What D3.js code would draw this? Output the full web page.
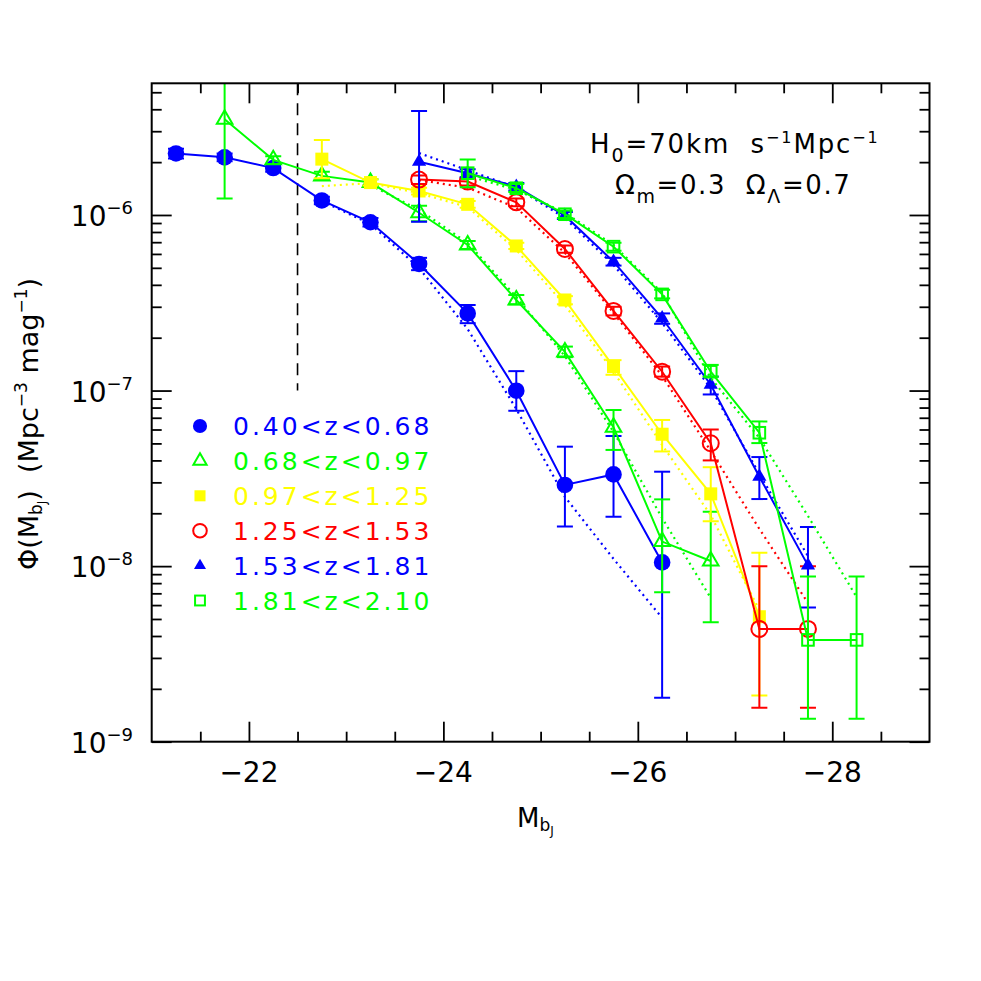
<!DOCTYPE html>
<html><head><meta charset="utf-8">
<script src="https://cdn.jsdelivr.net/npm/d3@7"></script>
<style>
body{margin:0;background:#fff}
text{font-family:"DejaVu Sans",sans-serif}
</style>
</head><body>
<svg id="chart" width="981" height="981"></svg>
<script>
// ---------------- DATA ----------------
const seriesLabels = ["0.40<z<0.68","0.68<z<0.97","0.97<z<1.25","1.25<z<1.53","1.53<z<1.81","1.81<z<2.10"];
const seriesColors = ["#0000ff","#00ff00","#ffff00","#ff0000","#0000ff","#00ff00"];
const seriesSymbols = ["circleFilled","triangleOpen","squareFilled","circleOpen","triangleFilled","squareOpen"];

// 0.40<z<0.68
const s1Mag = [-21.25,-21.75,-22.25,-22.75,-23.25,-23.75,-24.25,-24.75,-25.25,-25.75,-26.25];
const s1Phi = [2.24e-6,2.13e-6,1.85e-6,1.21e-6,9.09e-7,5.26e-7,2.75e-7,9.98e-8,2.90e-8,3.33e-8,1.05e-8];
const s1Lo  = [2.10e-6,2.02e-6,1.76e-6,1.15e-6,8.6e-7,4.85e-7,2.42e-7,7.67e-8,1.68e-8,1.91e-8,1.78e-9];
const s1Hi  = [2.38e-6,2.24e-6,1.95e-6,1.27e-6,9.6e-7,5.7e-7,3.07e-7,1.29e-7,4.79e-8,5.51e-8,3.45e-8];
const s1ModelMag = [-22.75,-23.25,-23.75,-24.25,-24.75,-25.25,-25.75,-26.25];
const s1Model    = [1.20e-6,8.88e-7,4.99e-7,2.24e-7,7.85e-8,2.48e-8,1.10e-8,5.07e-9];

// 0.68<z<0.97
const s2Mag = [-21.75,-22.25,-22.75,-23.25,-23.75,-24.25,-24.75,-25.25,-25.75,-26.25,-26.75];
const s2Phi = [3.51e-6,2.06e-6,1.67e-6,1.53e-6,1.03e-6,6.75e-7,3.28e-7,1.66e-7,6.18e-8,1.38e-8,1.07e-8];
const s2Lo  = [1.24e-6,1.95e-6,1.60e-6,1.47e-6,9.2e-7,6.4e-7,3.1e-7,1.55e-7,4.59e-8,7.10e-9,4.79e-9];
const s2Hi  = [8e-6,2.16e-6,1.76e-6,1.60e-6,1.13e-6,7.1e-7,3.5e-7,1.78e-7,7.75e-8,2.40e-8,2.04e-8];
const s2ModelMag = [-23.25,-23.75,-24.25,-24.75,-25.25,-25.75,-26.25,-26.75];
const s2Model    = [1.48e-6,1.07e-6,6.93e-7,3.41e-7,1.57e-7,5.81e-8,1.88e-8,6.59e-9];

// 0.97<z<1.25
const s3Mag = [-22.75,-23.25,-23.75,-24.25,-24.75,-25.25,-25.75,-26.25,-26.75,-27.25];
const s3Phi = [2.08e-6,1.53e-6,1.37e-6,1.15e-6,6.66e-7,3.28e-7,1.37e-7,5.64e-8,2.58e-8,5.15e-9];
const s3Lo  = [1.62e-6,1.47e-6,1.31e-6,1.10e-6,6.4e-7,3.1e-7,1.23e-7,4.5e-8,1.8e-8,1.83e-9];
const s3Hi  = [2.67e-6,1.60e-6,1.43e-6,1.20e-6,6.95e-7,3.45e-7,1.49e-7,6.8e-8,3.66e-8,1.19e-8];
const s3ModelMag = [-22.75,-23.25,-23.75,-24.25,-24.75,-25.25,-25.75,-26.25,-26.75,-27.25];
const s3Model    = [1.46e-6,1.52e-6,1.33e-6,1.11e-6,6.32e-7,3.07e-7,1.28e-7,4.90e-8,1.95e-8,5.62e-9];

// 1.25<z<1.53
const s4Mag = [-23.75,-24.25,-24.75,-25.25,-25.75,-26.25,-26.75,-27.25,-27.75];
const s4Phi = [1.59e-6,1.55e-6,1.18e-6,6.40e-7,2.84e-7,1.28e-7,5.01e-8,4.39e-9,4.39e-9];
const s4Lo  = [1.50e-6,1.47e-6,1.12e-6,6.1e-7,2.68e-7,1.2e-7,4.0e-8,1.56e-9,1.56e-9];
const s4Hi  = [1.68e-6,1.63e-6,1.24e-6,6.7e-7,3.0e-7,1.37e-7,6.0e-8,1.0e-8,1.0e-8];
const s4ModelMag = [-23.75,-24.25,-24.75,-25.25,-25.75,-26.25,-26.75,-27.25,-27.75];
const s4Model    = [1.58e-6,1.43e-6,1.10e-6,6.08e-7,2.77e-7,1.21e-7,4.53e-8,1.63e-8,6.17e-9];

// 1.53<z<1.81
const s5Mag = [-23.75,-24.25,-24.75,-25.25,-25.75,-26.25,-26.75,-27.25,-27.75];
const s5Phi = [2.01e-6,1.73e-6,1.45e-6,9.91e-7,5.42e-7,2.58e-7,1.08e-7,3.23e-8,1.01e-8];
const s5Lo  = [9.16e-7,1.64e-6,1.38e-6,9.5e-7,5.15e-7,2.4e-7,9.5e-8,2.41e-8,5.82e-9];
const s5Hi  = [3.91e-6,1.82e-6,1.52e-6,1.04e-6,5.7e-7,2.75e-7,1.2e-7,4.18e-8,1.67e-8];
const s5ModelMag = [-23.75,-24.25,-24.75,-25.25,-25.75,-26.25,-26.75,-27.25,-27.75];
const s5Model    = [2.25e-6,1.80e-6,1.43e-6,9.61e-7,5.19e-7,2.43e-7,1.03e-7,3.35e-8,1.14e-8];

// 1.81<z<2.10
const s6Mag = [-24.25,-24.75,-25.25,-25.75,-26.25,-26.75,-27.25,-27.75,-28.25];
const s6Phi = [1.73e-6,1.42e-6,1.01e-6,6.60e-7,3.53e-7,1.28e-7,5.75e-8,3.80e-9,3.80e-9];
const s6Lo  = [1.44e-6,1.35e-6,9.6e-7,6.25e-7,3.35e-7,1.2e-7,5.02e-8,1.35e-9,1.35e-9];
const s6Hi  = [2.07e-6,1.50e-6,1.06e-6,6.95e-7,3.75e-7,1.4e-7,6.67e-8,8.73e-9,8.73e-9];
const s6ModelMag = [-24.25,-24.75,-25.25,-25.75,-26.25,-26.75,-27.25,-27.75,-28.25];
const s6Model    = [1.67e-6,1.39e-6,1.03e-6,6.75e-7,3.60e-7,1.18e-7,5.37e-8,1.93e-8,6.67e-9];

// axes
const xDomain = [-21,-29];
const yDomain = [1e-9, Math.pow(10,-5.25)];
const xMajorTicks = [-22,-24,-26,-28];
const xTickLabels = ["\u221222","\u221224","\u221226","\u221228"];
const xMinorTicks = [-21.5,-22.5,-23,-23.5,-24.5,-25,-25.5,-26.5,-27,-27.5,-28.5];
const yDecadeTicks = [1e-9,1e-8,1e-7,1e-6];
const yTickExponents = ["\u22129","\u22128","\u22127","\u22126"];
const cutMag = -22.5;
const cutPhiBottom = 1e-7;

// ---------------- CHART ----------------
const svg = d3.select("#chart");
svg.append("rect").attr("width",981).attr("height",981).attr("fill","#fff");

const L=151.7, R=929.5, T=83.3, B=741.7;
const x = d3.scaleLinear().domain(xDomain).range([L,R]);
const y = d3.scaleLog().domain(yDomain).range([B,T]);

svg.append("clipPath").attr("id","clip").append("rect")
  .attr("x",L).attr("y",T).attr("width",R-L).attr("height",B-T);

const yMinorTicks = [];
yDecadeTicks.forEach(d=>{ for(let k=2;k<=9;k++){ const v=d*k; if(v<yDomain[1]) yMinorTicks.push(v);} });

function tickAxis(gen, transform){
  const g = svg.append("g").attr("transform",transform).call(gen);
  g.select(".domain").remove();
  g.selectAll(".tick line").attr("stroke","#000").attr("stroke-width",1.8);
  g.selectAll(".tick text").remove();
  return g;
}
tickAxis(d3.axisBottom(x).tickValues(xMajorTicks).tickSize(-20).tickSizeOuter(0),`translate(0,${B})`);
tickAxis(d3.axisBottom(x).tickValues(xMinorTicks).tickSize(-10).tickSizeOuter(0),`translate(0,${B})`);
tickAxis(d3.axisTop(x).tickValues(xMajorTicks).tickSize(-20).tickSizeOuter(0),`translate(0,${T})`);
tickAxis(d3.axisTop(x).tickValues(xMinorTicks).tickSize(-10).tickSizeOuter(0),`translate(0,${T})`);
tickAxis(d3.axisLeft(y).tickValues(yDecadeTicks).tickSize(-20).tickSizeOuter(0),`translate(${L},0)`);
tickAxis(d3.axisLeft(y).tickValues(yMinorTicks).tickSize(-10).tickSizeOuter(0),`translate(${L},0)`);
tickAxis(d3.axisRight(y).tickValues(yDecadeTicks).tickSize(-20).tickSizeOuter(0),`translate(${R},0)`);
tickAxis(d3.axisRight(y).tickValues(yMinorTicks).tickSize(-10).tickSizeOuter(0),`translate(${R},0)`);

// tick labels
xMajorTicks.forEach((v,i)=>{
  svg.append("text").attr("x",x(v)).attr("y",B+40).attr("text-anchor","middle")
    .attr("font-size",28).attr("fill","#000").text(xTickLabels[i]);
});
yDecadeTicks.forEach((v,i)=>{
  const t = svg.append("text").attr("x",133).attr("y",y(v)+11).attr("text-anchor","end")
    .attr("font-size",28).attr("fill","#000");
  t.append("tspan").text("10");
  t.append("tspan").attr("font-size",18).attr("dy",-12).text(yTickExponents[i]);
});

// axis titles
{
  const t = svg.append("text").attr("x",517).attr("y",827).attr("font-size",26).attr("fill","#000");
  t.append("tspan").text("M");
  t.append("tspan").attr("font-size",17).attr("dy",4).text("b");
  t.append("tspan").attr("font-size",12).attr("dy",4).text("J");
}
{
  const t = svg.append("text").attr("transform","translate(38,424) rotate(-90)")
    .attr("text-anchor","middle").attr("font-size",27).attr("fill","#000");
  t.append("tspan").text("\u03A6(M");
  t.append("tspan").attr("font-size",17).attr("dy",4).text("b");
  t.append("tspan").attr("font-size",12).attr("dy",4).text("J");
  t.append("tspan").attr("dy",-8).text(")\u00A0\u00A0(Mpc");
  t.append("tspan").attr("font-size",17).attr("dy",-11).text("\u22123");
  t.append("tspan").attr("dy",11).text("\u00A0mag");
  t.append("tspan").attr("font-size",17).attr("dy",-11).text("\u22121");
  t.append("tspan").attr("dy",11).text(")");
}

// cut line
svg.append("line").attr("x1",x(cutMag)).attr("x2",x(cutMag)).attr("y1",T).attr("y2",y(cutPhiBottom))
  .attr("stroke","#000").attr("stroke-width",1.6).attr("stroke-dasharray","12,8");

// annotation
{
  const t = svg.append("text").attr("x",590).attr("y",153).attr("font-size",26).attr("fill","#000")
    .attr("letter-spacing",1.9);
  t.append("tspan").text("H");
  t.append("tspan").attr("font-size",19).attr("dy",9).text("0");
  t.append("tspan").attr("dy",-9).text("=70km\u00A0\u00A0s");
  t.append("tspan").attr("font-size",16).attr("dy",-10).text("\u22121");
  t.append("tspan").attr("dy",10).text("Mpc");
  t.append("tspan").attr("font-size",16).attr("dy",-10).text("\u22121");
}
{
  const t = svg.append("text").attr("x",615).attr("y",194).attr("font-size",26).attr("fill","#000")
    .attr("letter-spacing",1.6);
  t.append("tspan").text("\u03A9");
  t.append("tspan").attr("font-size",19).attr("dy",9).text("m");
  t.append("tspan").attr("dy",-9).text("=0.3\u00A0\u00A0\u03A9");
  t.append("tspan").attr("font-size",19).attr("dy",9).text("\u039B");
  t.append("tspan").attr("dy",-9).text("=0.7");
}

// symbols
function drawSymbol(g, kind, cx, cy, color, scale){
  const s = scale||1;
  if(kind==="circleFilled"){
    g.append("circle").attr("cx",cx).attr("cy",cy).attr("r",8.3*s).attr("fill",color);
  } else if(kind==="circleOpen"){
    g.append("circle").attr("cx",cx).attr("cy",cy).attr("r",8*s).attr("fill","none")
      .attr("stroke",color).attr("stroke-width",2);
  } else if(kind==="triangleOpen" || kind==="triangleFilled"){
    const r = (kind==="triangleOpen"?9:8.2)*s;
    const pts = [[cx,cy-r],[cx+0.866*r,cy+0.5*r],[cx-0.866*r,cy+0.5*r]];
    const p = g.append("path").attr("d","M"+pts.map(p=>p.join(",")).join("L")+"Z");
    if(kind==="triangleOpen") p.attr("fill","none").attr("stroke",color).attr("stroke-width",2).attr("stroke-linejoin","miter");
    else p.attr("fill",color);
  } else if(kind==="squareFilled"){
    const h=6.5*s;
    g.append("rect").attr("x",cx-h).attr("y",cy-h).attr("width",2*h).attr("height",2*h).attr("fill",color);
  } else if(kind==="squareOpen"){
    const h=5.8*s;
    g.append("rect").attr("x",cx-h).attr("y",cy-h).attr("width",2*h).attr("height",2*h)
      .attr("fill","none").attr("stroke",color).attr("stroke-width",2);
  }
}

const seriesData = [
  [s1Mag,s1Phi,s1Lo,s1Hi,s1ModelMag,s1Model],
  [s2Mag,s2Phi,s2Lo,s2Hi,s2ModelMag,s2Model],
  [s3Mag,s3Phi,s3Lo,s3Hi,s3ModelMag,s3Model],
  [s4Mag,s4Phi,s4Lo,s4Hi,s4ModelMag,s4Model],
  [s5Mag,s5Phi,s5Lo,s5Hi,s5ModelMag,s5Model],
  [s6Mag,s6Phi,s6Lo,s6Hi,s6ModelMag,s6Model]
];

const plot = svg.append("g").attr("clip-path","url(#clip)");
const line = d3.line().x(d=>x(d[0])).y(d=>y(d[1]));

seriesData.forEach((sd,i)=>{
  const [mag,phi,lo,hi,mMag,mPhi] = sd;
  const col = seriesColors[i];
  const g = plot.append("g");
  g.append("path").attr("d",line(mMag.map((m,j)=>[m,mPhi[j]])))
    .attr("fill","none").attr("stroke",col).attr("stroke-width",2.2).attr("stroke-dasharray","2,4");
  g.append("path").attr("d",line(mag.map((m,j)=>[m,phi[j]])))
    .attr("fill","none").attr("stroke",col).attr("stroke-width",2);
  mag.forEach((m,j)=>{
    const cx=x(m), y0=y(lo[j]), y1=y(hi[j]);
    g.append("line").attr("x1",cx).attr("x2",cx).attr("y1",y0).attr("y2",y1).attr("stroke",col).attr("stroke-width",2);
    g.append("line").attr("x1",cx-8).attr("x2",cx+8).attr("y1",y0).attr("y2",y0).attr("stroke",col).attr("stroke-width",2);
    g.append("line").attr("x1",cx-8).attr("x2",cx+8).attr("y1",y1).attr("y2",y1).attr("stroke",col).attr("stroke-width",2);
    drawSymbol(g, seriesSymbols[i], cx, y(phi[j]), col, 1);
  });
});

// frame
svg.append("rect").attr("x",L).attr("y",T).attr("width",R-L).attr("height",B-T)
  .attr("fill","none").attr("stroke","#000").attr("stroke-width",2);

// legend
seriesLabels.forEach((lab,i)=>{
  const cy = 426 + i*34.9;
  drawSymbol(svg, seriesSymbols[i], 200, cy, seriesColors[i], 0.85);
  svg.append("text").attr("x",233).attr("y",cy+9).attr("font-size",25).attr("letter-spacing",3)
    .attr("fill",seriesColors[i]).text(lab);
});
</script>
</body></html>
